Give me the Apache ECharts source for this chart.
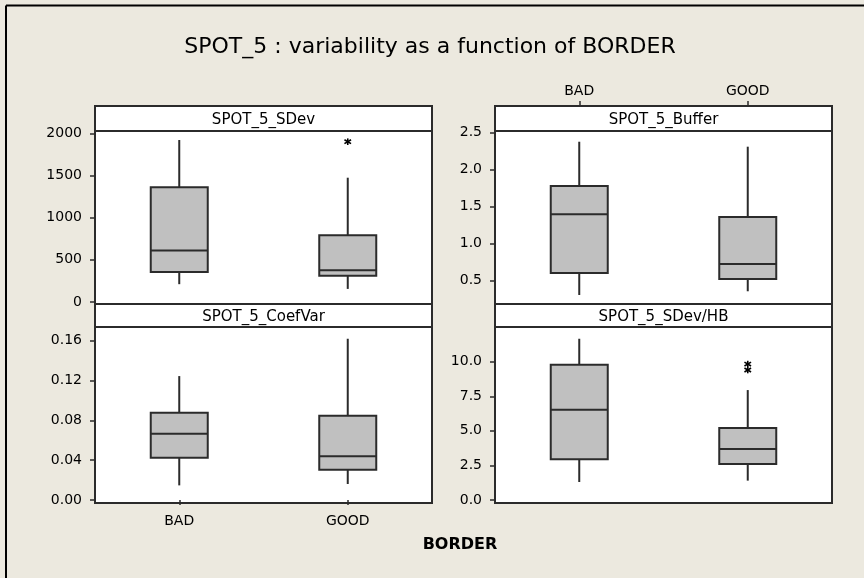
<!DOCTYPE html>
<html>
<head>
<meta charset="utf-8">
<script src="https://cdn.jsdelivr.net/npm/echarts@6/dist/echarts.min.js"></script>
<style>
html,body{margin:0;padding:0;background:#ECE9DF;}
#chart{width:864px;height:578px;}
</style>
</head>
<body>
<div id="chart"></div>
<script>
// ---- data ----
const categories = ['BAD', 'GOOD'];
const panelTitles = ['SPOT_5_SDev', 'SPOT_5_Buffer', 'SPOT_5_CoefVar', 'SPOT_5_SDev/HB'];
// [min whisker, Q1, median, Q3, max whisker]
const sdevBad = [210, 356, 610, 1359, 1920];
const sdevGood = [154, 309, 376, 789, 1473];
const sdevGoodOutliers = [1900];
const bufferBad = [0.307, 0.604, 1.397, 1.78, 2.378];
const bufferGood = [0.357, 0.523, 0.726, 1.361, 2.311];
const coefBad = [0.0147, 0.0425, 0.0666, 0.0877, 0.1245];
const coefGood = [0.0161, 0.0305, 0.0439, 0.0847, 0.162];
const hbBad = [1.30, 2.94, 6.53, 9.78, 11.66];
const hbGood = [1.40, 2.60, 3.69, 5.21, 7.95];
const hbGoodOutliers = [9.83, 9.40];
const sdevTicks = [0, 500, 1000, 1500, 2000];
const bufferTicks = [0.5, 1.0, 1.5, 2.0, 2.5];
const coefTicks = [0, 0.04, 0.08, 0.12, 0.16];
const hbTicks = [0, 2.5, 5.0, 7.5, 10.0];

// ---- layout ----
const FONT = "'DejaVu Sans', Verdana, sans-serif";
const EDGE = '#2b2b2b';
const LW = 2;
const panels = [
  {left: 95, top: 131, width: 337, height: 173, strip: [106, 25], ymin: -25, ymax: 2027, ticks: sdevTicks, dec: 0},
  {left: 495, top: 131, width: 337, height: 173, strip: [106, 25], ymin: 0.185, ymax: 2.523, ticks: bufferTicks, dec: 1},
  {left: 95, top: 327, width: 337, height: 176, strip: [304, 23], ymin: -0.003, ymax: 0.1738, ticks: coefTicks, dec: 2},
  {left: 495, top: 327, width: 337, height: 176, strip: [304, 23], ymin: -0.217, ymax: 12.51, ticks: hbTicks, dec: 1}
];

const grids = panels.map(p => ({
  left: p.left, top: p.top, width: p.width, height: p.height,
  show: true, backgroundColor: '#ffffff', borderColor: EDGE, borderWidth: LW,
  containLabel: false
}));

const xAxes = panels.map((p, i) => {
  const base = {
    gridIndex: i, type: 'category', data: categories, boundaryGap: true,
    axisLine: {show: false}, splitLine: {show: false},
    axisTick: {show: false, alignWithLabel: true, length: 5, lineStyle: {color: EDGE, width: 1.5}},
    axisLabel: {show: false, color: '#000', fontSize: 14, fontFamily: FONT}
  };
  if (i === 1) {
    base.position = 'top';
    base.offset = 25;
    base.axisTick.show = true;
    base.axisLabel.show = true;
    base.axisLabel.margin = 8;
  }
  if (i === 2) {
    base.position = 'bottom';
    base.axisTick.show = true;
    base.axisLabel.show = true;
    base.axisLabel.margin = 11;
  }
  return base;
});

const yAxes = panels.map((p, i) => ({
  gridIndex: i, type: 'value', min: p.ymin, max: p.ymax,
  axisLine: {show: false}, splitLine: {show: false},
  axisTick: {show: true, length: 5, customValues: p.ticks, lineStyle: {color: EDGE, width: 1.5}},
  axisLabel: {
    customValues: p.ticks, color: '#000', fontSize: 14, fontFamily: FONT, margin: 13,
    formatter: v => Number(v).toFixed(p.dec)
  }
}));

function renderBox(params, api) {
  const x = api.value(0);
  const lo = api.coord([x, api.value(1)]);
  const q1 = api.coord([x, api.value(2)]);
  const md = api.coord([x, api.value(3)]);
  const q3 = api.coord([x, api.value(4)]);
  const hi = api.coord([x, api.value(5)]);
  const hw = 28.5;
  const ls = {stroke: EDGE, lineWidth: LW};
  return {
    type: 'group',
    children: [
      {type: 'line', shape: {x1: lo[0], y1: lo[1], x2: q1[0], y2: q1[1]}, style: ls},
      {type: 'line', shape: {x1: q3[0], y1: q3[1], x2: hi[0], y2: hi[1]}, style: ls},
      {type: 'rect', shape: {x: q1[0] - hw, y: q3[1], width: 2 * hw, height: q1[1] - q3[1]},
        style: {fill: '#C0C0C0', stroke: EDGE, lineWidth: LW}},
      {type: 'line', shape: {x1: md[0] - hw, y1: md[1], x2: md[0] + hw, y2: md[1]}, style: ls}
    ]
  };
}

function renderStar(params, api) {
  const c = api.coord([api.value(0), api.value(1)]);
  const ls = {stroke: '#000', lineWidth: 1.6};
  const r = 3.3;
  return {
    type: 'group',
    children: [
      {type: 'line', shape: {x1: c[0], y1: c[1] - r, x2: c[0], y2: c[1] + r}, style: ls},
      {type: 'line', shape: {x1: c[0] - r, y1: c[1] - r * 0.6, x2: c[0] + r, y2: c[1] + r * 0.6}, style: ls},
      {type: 'line', shape: {x1: c[0] - r, y1: c[1] + r * 0.6, x2: c[0] + r, y2: c[1] - r * 0.6}, style: ls}
    ]
  };
}

const boxSets = [[sdevBad, sdevGood], [bufferBad, bufferGood], [coefBad, coefGood], [hbBad, hbGood]];
const outlierSets = [[[1, sdevGoodOutliers]], [], [], [[1, hbGoodOutliers]]];

const series = [];
boxSets.forEach((set, i) => {
  series.push({
    type: 'custom', xAxisIndex: i, yAxisIndex: i, renderItem: renderBox,
    encode: {x: 0, y: [1, 2, 3, 4, 5]}, silent: true,
    data: set.map((v, k) => [k].concat(v))
  });
});
outlierSets.forEach((set, i) => {
  const data = [];
  set.forEach(([k, vals]) => vals.forEach(v => data.push([k, v])));
  if (data.length) {
    series.push({
      type: 'custom', xAxisIndex: i, yAxisIndex: i, renderItem: renderStar,
      encode: {x: 0, y: 1}, silent: true, data: data
    });
  }
});

const graphics = [
  {type: 'line', shape: {x1: 6, y1: 5.5, x2: 864, y2: 5.5}, style: {stroke: '#000', lineWidth: 2}},
  {type: 'line', shape: {x1: 6, y1: 5.5, x2: 6, y2: 578}, style: {stroke: '#000', lineWidth: 2}},
  {type: 'text', x: 430, y: 47, style: {text: 'SPOT_5 : variability as a function of BORDER', font: '22px ' + FONT, fill: '#000', textAlign: 'center', textVerticalAlign: 'middle'}},
  {type: 'text', x: 460, y: 545, style: {text: 'BORDER', font: 'bold 16px ' + FONT, fill: '#000', textAlign: 'center', textVerticalAlign: 'middle'}}
];
panels.forEach((p, i) => {
  graphics.push({type: 'rect', z: 10, shape: {x: p.left, y: p.strip[0], width: p.width, height: p.strip[1]},
    style: {fill: '#ffffff', stroke: EDGE, lineWidth: LW}});
  graphics.push({type: 'text', z: 11, x: p.left + p.width / 2, y: p.strip[0] + p.strip[1] / 2 + 1.5,
    style: {text: panelTitles[i], font: '15px ' + FONT, fill: '#000', textAlign: 'center', textVerticalAlign: 'middle'}});
});

const chart = echarts.init(document.getElementById('chart'), null, {renderer: 'canvas'});
chart.setOption({
  backgroundColor: '#ECE9DF',
  animation: false,
  grid: grids,
  xAxis: xAxes,
  yAxis: yAxes,
  series: series,
  graphic: graphics
});
</script>
</body>
</html>
